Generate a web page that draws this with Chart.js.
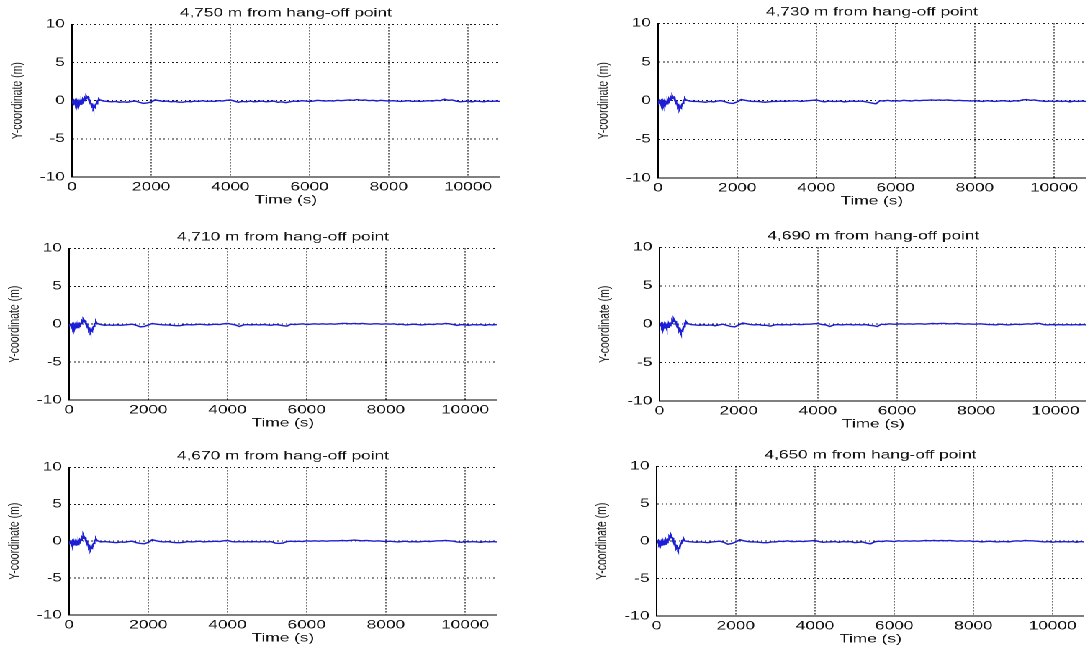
<!DOCTYPE html>
<html>
<head>
<meta charset="utf-8">
<script src="https://cdn.jsdelivr.net/npm/chart.js@4/dist/chart.umd.min.js"></script>
<style>
  html, body { margin: 0; padding: 0; background: #fff; overflow: hidden; width: 1086px; height: 646px; }
  /* the figure is laid out on a narrower sheet and widened horizontally */
  #stage { position: absolute; left: 0; top: 0; width: 755px; height: 646px; transform: scaleX(1.44); transform-origin: 0 0; }
  .panel { position: absolute; }
</style>
</head>
<body>
<div id="stage"></div>
<script>
// Sample times (s): dense over the start-up transient, then every 100 s
const timeSec = [
  0, 20, 40, 60, 80, 100, 120, 140, 160, 180, 200, 220, 240, 260, 280, 300, 320, 340,
  360, 380, 400, 420, 440, 460, 480, 500, 520, 540, 560, 580, 600, 620, 640, 660, 680, 700,
  800, 900, 1000, 1100, 1200, 1300, 1400, 1500, 1600, 1700,
  1800, 1900, 2000, 2100, 2200, 2300, 2400, 2500, 2600, 2700,
  2800, 2900, 3000, 3100, 3200, 3300, 3400, 3500, 3600, 3700,
  3800, 3900, 4000, 4100, 4200, 4300, 4400, 4500, 4600, 4700,
  4800, 4900, 5000, 5100, 5200, 5300, 5400, 5500, 5600, 5700,
  5800, 5900, 6000, 6100, 6200, 6300, 6400, 6500, 6600, 6700,
  6800, 6900, 7000, 7100, 7200, 7300, 7400, 7500, 7600, 7700,
  7800, 7900, 8000, 8100, 8200, 8300, 8400, 8500, 8600, 8700,
  8800, 8900, 9000, 9100, 9200, 9300, 9400, 9500, 9600, 9700,
  9800, 9900, 10000, 10100, 10200, 10300, 10400, 10500, 10600, 10700,
  10800
];

// Y-coordinate (m) at each station along the line
const y4750 = [
  0, -0.1, 0.05, -0.2, 0, -0.35, -0.05, -0.45, -0.1, -0.5, -0.15, -0.45, -0.05, -0.3, 0.15, 0, 0.4, 0.25,
  0.6, 0.45, 0.5, 0.2, 0.1, -0.3, -0.35, -0.75, -0.6, -0.95, -0.75, -0.85, -0.45, -0.4, -0.05, 0.05, 0.2, 0.1,
  -0.05, -0.1, -0.15, -0.1, -0.2, -0.15, -0.2, -0.1, -0.05, -0.2,
  -0.35, -0.3, -0.15, 0.1, 0, -0.1, -0.05, -0.15, -0.1, -0.2,
  -0.2, -0.1, -0.15, -0.05, -0.1, 0, -0.1, -0.05, -0.1, 0,
  -0.05, 0.05, 0.1, -0.05, -0.2, -0.1, -0.15, -0.05, -0.15, -0.1,
  -0.05, -0.15, -0.1, -0.05, -0.2, -0.15, -0.25, -0.15, -0.05, -0.1,
  0, -0.05, -0.1, -0.05, 0.05, 0, -0.05, 0, -0.05, 0.05,
  0, 0.05, 0.1, 0.05, 0.15, 0.05, 0.1, 0, 0.05, -0.05,
  0.05, 0, -0.05, 0, -0.05, -0.1, -0.05, 0, -0.1, -0.05,
  -0.1, -0.05, 0, -0.05, 0.05, 0, 0.2, 0.05, 0.1, -0.05,
  -0.15, -0.1, -0.05, -0.15, -0.05, -0.1, -0.15, -0.05, -0.1, -0.05,
  -0.1
];
const y4730 = [
  0, -0.15, 0.05, -0.25, -0.05, -0.4, -0.1, -0.5, -0.15, -0.55, -0.2, -0.4, 0, -0.25, 0.2, 0.05, 0.45, 0.3,
  0.6, 0.4, 0.45, 0.15, 0.05, -0.35, -0.4, -0.8, -0.65, -1.05, -0.8, -0.9, -0.5, -0.35, 0, 0.1, 0.25, 0.1,
  -0.05, -0.1, -0.1, -0.15, -0.2, -0.1, -0.15, -0.05, 0, -0.15,
  -0.3, -0.35, -0.15, 0.15, 0.05, -0.05, -0.1, -0.1, -0.15, -0.2,
  -0.15, -0.1, -0.1, -0.05, -0.1, -0.05, -0.05, 0, -0.1, -0.05,
  0, 0.05, 0.1, -0.05, -0.15, -0.05, -0.1, -0.1, -0.05, -0.15,
  -0.1, -0.05, -0.1, -0.05, -0.1, -0.2, -0.3, -0.4, 0, -0.05,
  0.05, -0.05, 0, -0.05, 0.05, 0, -0.05, 0.05, 0, 0.05,
  0.05, 0.1, 0.05, 0.1, 0.05, 0.1, 0.05, 0, 0.05, 0,
  0, -0.05, 0, -0.05, -0.1, 0, -0.05, -0.1, -0.05, 0,
  -0.05, -0.1, 0, -0.05, 0.1, 0.15, 0.05, 0.1, 0, -0.05,
  -0.1, -0.05, -0.1, -0.05, -0.1, -0.05, -0.15, -0.05, -0.1, -0.05,
  -0.1
];
const y4710 = [
  0, -0.1, 0, -0.25, -0.05, -0.4, -0.1, -0.5, -0.15, -0.55, -0.1, -0.45, -0.05, -0.3, 0.1, 0.05, 0.45, 0.3,
  0.65, 0.5, 0.45, 0.15, 0.05, -0.35, -0.4, -0.8, -0.65, -1.0, -0.8, -0.9, -0.5, -0.3, 0.05, 0.1, 0.3, 0.1,
  -0.05, -0.15, -0.1, -0.15, -0.1, -0.15, -0.1, -0.05, 0, -0.15,
  -0.35, -0.3, -0.1, 0.1, 0, -0.05, -0.1, -0.1, -0.15, -0.2,
  -0.2, -0.1, -0.05, -0.1, -0.05, 0, -0.05, -0.1, -0.05, 0,
  -0.05, 0.05, 0.1, 0, -0.1, -0.3, -0.1, -0.05, -0.1, -0.05,
  -0.1, -0.05, -0.1, -0.15, -0.05, -0.1, -0.2, -0.25, 0, -0.05,
  0, 0.05, -0.05, 0, 0.05, 0, 0.05, 0, 0.05, 0,
  0.05, 0.1, 0.1, 0.05, 0.1, 0.05, 0.1, 0.05, 0, 0.05,
  0.05, 0, 0.05, 0, 0.05, -0.05, 0, -0.1, -0.05, 0,
  -0.05, -0.1, -0.05, 0, -0.05, 0.05, 0, 0.1, 0.05, -0.05,
  -0.15, -0.05, -0.1, -0.15, -0.05, -0.1, -0.05, -0.15, -0.05, -0.1,
  -0.05
];
const y4690 = [
  0, -0.1, 0.05, -0.3, -0.05, -0.45, -0.1, -0.55, -0.15, -0.5, -0.1, -0.4, 0, -0.2, 0.15, 0.1, 0.5, 0.35,
  0.65, 0.45, 0.4, 0.1, 0, -0.4, -0.45, -0.85, -0.7, -1.05, -0.85, -0.9, -0.45, -0.3, 0.1, 0.05, 0.25, 0.1,
  -0.05, -0.1, -0.15, -0.1, -0.15, -0.1, -0.2, -0.1, 0, -0.15,
  -0.3, -0.35, -0.1, 0.15, 0.05, -0.05, -0.1, -0.05, -0.15, -0.15,
  -0.25, -0.1, -0.05, -0.1, -0.05, -0.1, 0, -0.05, -0.05, 0,
  0, 0.05, 0.1, -0.05, -0.1, -0.3, -0.1, -0.05, -0.1, -0.05,
  -0.05, -0.1, -0.05, -0.1, -0.05, -0.15, -0.2, -0.3, 0, -0.05,
  0.05, 0, 0, 0.05, 0, 0.05, 0, 0.05, 0.05, 0,
  0.05, 0.1, 0.05, 0.1, 0.1, 0.05, 0.05, 0.1, 0.05, 0,
  0.05, 0, 0, 0.05, 0, -0.05, -0.05, -0.1, 0, -0.05,
  -0.1, -0.05, 0, -0.05, 0, 0.05, 0, 0.1, 0.1, -0.05,
  -0.1, -0.05, -0.1, -0.05, -0.1, -0.05, -0.1, -0.05, -0.1, -0.05,
  -0.1
];
const y4670 = [
  0, -0.15, 0, -0.3, -0.05, -0.45, -0.1, -0.55, -0.15, -0.6, -0.15, -0.45, 0, -0.25, 0.2, 0.1, 0.55, 0.4,
  0.8, 0.55, 0.5, 0.15, 0.05, -0.4, -0.45, -0.9, -0.75, -1.15, -0.9, -0.95, -0.5, -0.3, 0.05, 0.15, 0.3, 0.1,
  -0.1, -0.05, -0.1, -0.15, -0.2, -0.1, -0.15, -0.05, 0, -0.2,
  -0.3, -0.35, -0.15, 0.2, 0.05, -0.05, -0.1, -0.05, -0.15, -0.2,
  -0.2, -0.15, -0.05, -0.1, -0.05, 0, -0.1, -0.05, -0.05, 0,
  -0.05, 0.05, 0.1, -0.05, -0.1, -0.05, -0.1, -0.05, -0.1, -0.05,
  -0.1, -0.05, -0.1, -0.05, -0.25, -0.3, -0.25, -0.05, 0, -0.05,
  0, -0.05, 0.05, 0, 0.05, 0, 0.05, 0, 0.05, 0.05,
  0.05, 0.1, 0.05, 0.1, 0.15, 0.1, 0.05, 0.1, 0.05, 0,
  0.05, 0, -0.05, 0, -0.05, -0.1, -0.05, 0, -0.1, -0.05,
  -0.1, -0.05, 0, -0.05, 0, 0.05, 0.05, 0.1, 0.05, 0,
  -0.1, -0.15, -0.05, -0.1, -0.05, -0.1, -0.15, -0.05, -0.1, -0.05,
  -0.1
];
const y4650 = [
  0, -0.1, 0.05, -0.3, -0.05, -0.5, -0.15, -0.6, -0.1, -0.55, -0.1, -0.4, 0.05, -0.2, 0.25, 0.15, 0.6, 0.45,
  0.8, 0.55, 0.45, 0.1, 0, -0.45, -0.5, -0.95, -0.8, -1.1, -0.95, -0.9, -0.45, -0.25, 0.1, 0.15, 0.3, 0.05,
  -0.05, -0.1, -0.15, -0.1, -0.15, -0.2, -0.1, -0.05, 0, -0.15,
  -0.4, -0.3, -0.1, 0.2, 0.05, -0.05, -0.1, -0.1, -0.15, -0.2,
  -0.2, -0.1, -0.1, 0, -0.05, 0.05, -0.05, -0.05, 0, -0.05,
  0, 0.05, 0.1, -0.05, -0.15, -0.1, -0.1, -0.05, -0.15, -0.05,
  -0.1, -0.05, -0.2, -0.15, -0.1, -0.25, -0.35, -0.1, 0, -0.05,
  0.05, 0, -0.05, 0.05, 0, 0.05, 0, 0.05, 0, 0.05,
  0.1, 0.05, 0.1, 0.05, 0.1, 0.05, 0.1, 0.05, 0, 0.05,
  0, 0.05, -0.05, 0, -0.1, -0.05, 0, -0.05, -0.1, -0.05,
  -0.05, -0.1, 0, 0.05, 0, 0.1, 0.05, 0.05, 0, -0.05,
  -0.1, -0.05, -0.15, -0.05, -0.1, -0.05, -0.1, -0.05, -0.15, -0.05,
  -0.1
];

const panelTitles = [
  '4,750 m from hang-off point', '4,730 m from hang-off point',
  '4,710 m from hang-off point', '4,690 m from hang-off point',
  '4,670 m from hang-off point', '4,650 m from hang-off point'
];
const xTickValues = [0, 2000, 4000, 6000, 8000, 10000];
const yTickValues = [-10, -5, 0, 5, 10];
const xLabel = 'Time (s)';
const yLabel = 'Y-coordinate (m)';

// Placement of each plot area on the sheet (left edge, top and bottom of the axes box)
const panels = [
  { title: panelTitles[0], values: y4750, left: 50.0, top: 24.0, bottom: 177.0 },
  { title: panelTitles[1], values: y4730, left: 456.9, top: 23.3, bottom: 178.3 },
  { title: panelTitles[2], values: y4710, left: 47.9, top: 248.3, bottom: 399.5 },
  { title: panelTitles[3], values: y4690, left: 457.6, top: 247.3, bottom: 400.7 },
  { title: panelTitles[4], values: y4670, left: 47.9, top: 467.3, bottom: 614.5 },
  { title: panelTitles[5], values: y4650, left: 456.3, top: 466.0, bottom: 615.7 }
];

const Y_AXIS_W = 44;
const X_AXIS_H = 29;
const TITLE_H = 12 * 1.2 + 4;
const PLOT_W = 297;
const FONT = '"Liberation Sans", Arial, Helvetica, sans-serif';
const INK = '#111';

Chart.defaults.font.family = FONT;
Chart.defaults.font.weight = 'normal';
Chart.defaults.color = INK;

const stage = document.getElementById('stage');

panels.forEach(p => {
  const w = Y_AXIS_W + PLOT_W;
  const h = Math.round(TITLE_H + (p.bottom - p.top) + X_AXIS_H);
  const box = document.createElement('div');
  box.className = 'panel';
  box.style.left = (p.left - Y_AXIS_W) + 'px';
  box.style.top = (p.top - TITLE_H) + 'px';
  box.style.width = w + 'px';
  box.style.height = h + 'px';
  const canvas = document.createElement('canvas');
  canvas.width = w;
  canvas.height = h;
  canvas.style.width = w + 'px';
  canvas.style.height = h + 'px';
  box.appendChild(canvas);
  stage.appendChild(box);

  const points = timeSec.map((t, i) => ({ x: t, y: p.values[i] }));

  new Chart(canvas, {
    type: 'line',
    data: {
      datasets: [{
        data: points,
        borderColor: '#1c1fd4',
        borderWidth: 1.4,
        pointRadius: 0,
        tension: 0,
        fill: false
      }]
    },
    options: {
      responsive: false,
      animation: false,
      devicePixelRatio: 2,
      layout: { padding: 0 },
      plugins: {
        legend: { display: false },
        tooltip: { enabled: false },
        title: {
          display: true,
          text: p.title,
          fullSize: false,
          color: INK,
          font: { size: 12, weight: 'normal', lineHeight: 1.2 },
          padding: { top: 0, bottom: 4 }
        }
      },
      scales: {
        x: {
          type: 'linear',
          min: 0,
          max: 10800,
          afterBuildTicks: s => { s.ticks = xTickValues.map(v => ({ value: v })); },
          afterFit: s => { s.height = X_AXIS_H; },
          grid: { drawTicks: false, color: '#1a1a1a', lineWidth: 1 },
          border: { display: true, color: '#000', width: 1, dash: [1, 2] },
          ticks: {
            padding: 4, color: INK, autoSkip: false, maxRotation: 0,
            font: { size: 12, weight: 'normal', lineHeight: 1 },
            callback: v => String(v)
          },
          title: { display: true, text: xLabel, color: INK, font: { size: 12, weight: 'normal', lineHeight: 1 }, padding: 0 }
        },
        y: {
          type: 'linear',
          min: -10,
          max: 10,
          afterBuildTicks: s => { s.ticks = yTickValues.map(v => ({ value: v })); },
          afterFit: s => { s.width = Y_AXIS_W; },
          grid: { drawTicks: false, color: '#1a1a1a', lineWidth: 1 },
          border: { display: true, color: '#000', width: 1, dash: [1, 2] },
          ticks: {
            padding: 5, color: INK,
            font: { size: 12, weight: 'normal' },
            callback: v => String(v)
          },
          title: { display: true, text: yLabel, color: '#1a1a1a', font: { size: 10.5, weight: 'normal', lineHeight: 1.2 }, padding: 0 }
        }
      }
    }
  });
});
</script>
</body>
</html>
